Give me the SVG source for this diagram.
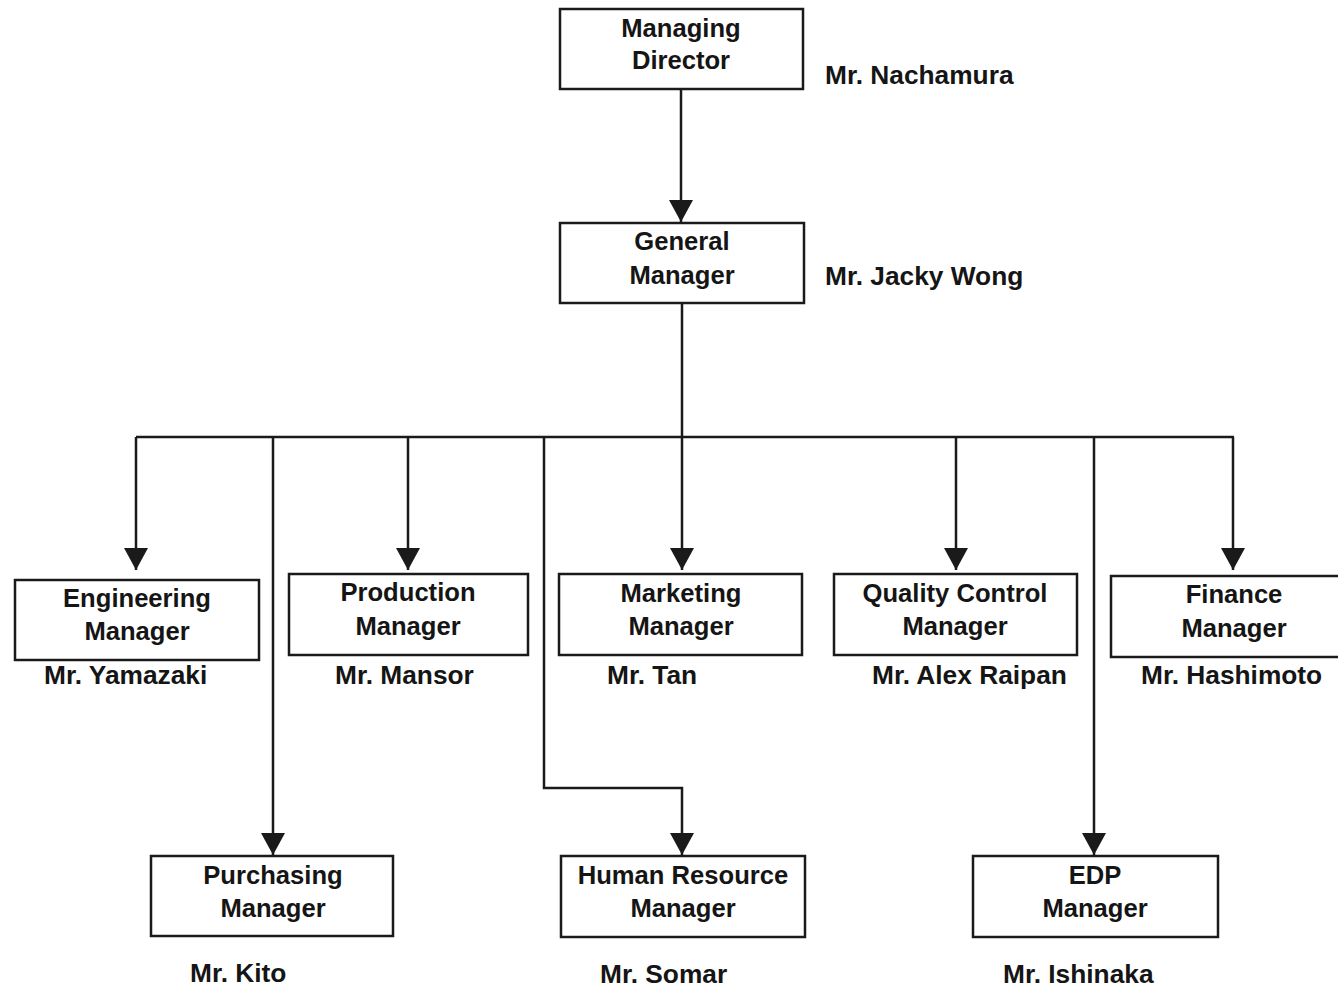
<svg xmlns="http://www.w3.org/2000/svg" width="1338" height="989" viewBox="0 0 1338 989">
<style>
.box{fill:#fff;stroke:#1a1a1a;stroke-width:2.5}
.t{font-family:"Liberation Sans",Arial,sans-serif;font-size:25.6px;font-weight:bold;fill:#151515;text-anchor:middle}
.n{font-family:"Liberation Sans",Arial,sans-serif;font-size:26.3px;font-weight:bold;fill:#151515}
.c{fill:none;stroke:#1a1a1a;stroke-width:2.5}
</style>
<defs>
<marker id="ah" viewBox="0 0 22 24" refX="22" refY="12" markerWidth="22" markerHeight="24" markerUnits="userSpaceOnUse" orient="auto">
<path d="M0,0 L22,12 L0,24 Z" fill="#1a1a1a"/>
</marker>
</defs>
<rect width="1338" height="989" fill="#fff"/>
<g id="connectors">
<path class="c" d="M681,89 V222" marker-end="url(#ah)"/>
<path class="c" d="M682,303 V570" marker-end="url(#ah)"/>
<path class="c" d="M136,437 H1234"/>
<path class="c" d="M136,437 V570" marker-end="url(#ah)"/>
<path class="c" d="M273,437 V855" marker-end="url(#ah)"/>
<path class="c" d="M408,437 V570" marker-end="url(#ah)"/>
<path class="c" d="M544,437 V788 H682 V855" marker-end="url(#ah)"/>
<path class="c" d="M956,437 V570" marker-end="url(#ah)"/>
<path class="c" d="M1094,437 V855" marker-end="url(#ah)"/>
<path class="c" d="M1233,437 V570" marker-end="url(#ah)"/>
</g>
<g id="md">
<rect class="box" x="560" y="9" width="243" height="80"/>
<text class="t" x="681" y="37">Managing</text>
<text class="t" x="681" y="69">Director</text>
<text class="n" x="825" y="84">Mr. Nachamura</text>
</g>
<g id="gm">
<rect class="box" x="560" y="223" width="244" height="80"/>
<text class="t" x="682" y="250">General</text>
<text class="t" x="682" y="284">Manager</text>
<text class="n" x="825" y="285">Mr. Jacky Wong</text>
</g>
<g id="eng">
<rect class="box" x="15" y="580" width="244" height="80"/>
<text class="t" x="137" y="607">Engineering</text>
<text class="t" x="137" y="640">Manager</text>
<text class="n" x="44" y="684">Mr. Yamazaki</text>
</g>
<g id="prod">
<rect class="box" x="289" y="574" width="239" height="81"/>
<text class="t" x="408" y="601">Production</text>
<text class="t" x="408" y="635">Manager</text>
<text class="n" x="335" y="684">Mr. Mansor</text>
</g>
<g id="mkt">
<rect class="box" x="559" y="574" width="243" height="81"/>
<text class="t" x="681" y="602">Marketing</text>
<text class="t" x="681" y="635">Manager</text>
<text class="n" x="607" y="684">Mr. Tan</text>
</g>
<g id="qc">
<rect class="box" x="834" y="574" width="243" height="81"/>
<text class="t" x="955" y="602">Quality Control</text>
<text class="t" x="955" y="635">Manager</text>
<text class="n" x="872" y="684">Mr. Alex Raipan</text>
</g>
<g id="fin">
<rect class="box" x="1111" y="576" width="230" height="81"/>
<text class="t" x="1234" y="603">Finance</text>
<text class="t" x="1234" y="637">Manager</text>
<text class="n" x="1141" y="684">Mr. Hashimoto</text>
</g>
<g id="pur">
<rect class="box" x="151" y="856" width="242" height="80"/>
<text class="t" x="273" y="884">Purchasing</text>
<text class="t" x="273" y="917">Manager</text>
<text class="n" x="190" y="982">Mr. Kito</text>
</g>
<g id="hr">
<rect class="box" x="561" y="856" width="244" height="81"/>
<text class="t" x="683" y="884">Human Resource</text>
<text class="t" x="683" y="917">Manager</text>
<text class="n" x="600" y="983">Mr. Somar</text>
</g>
<g id="edp">
<rect class="box" x="973" y="856" width="245" height="81"/>
<text class="t" x="1095" y="884">EDP</text>
<text class="t" x="1095" y="917">Manager</text>
<text class="n" x="1003" y="983">Mr. Ishinaka</text>
</g>
</svg>
